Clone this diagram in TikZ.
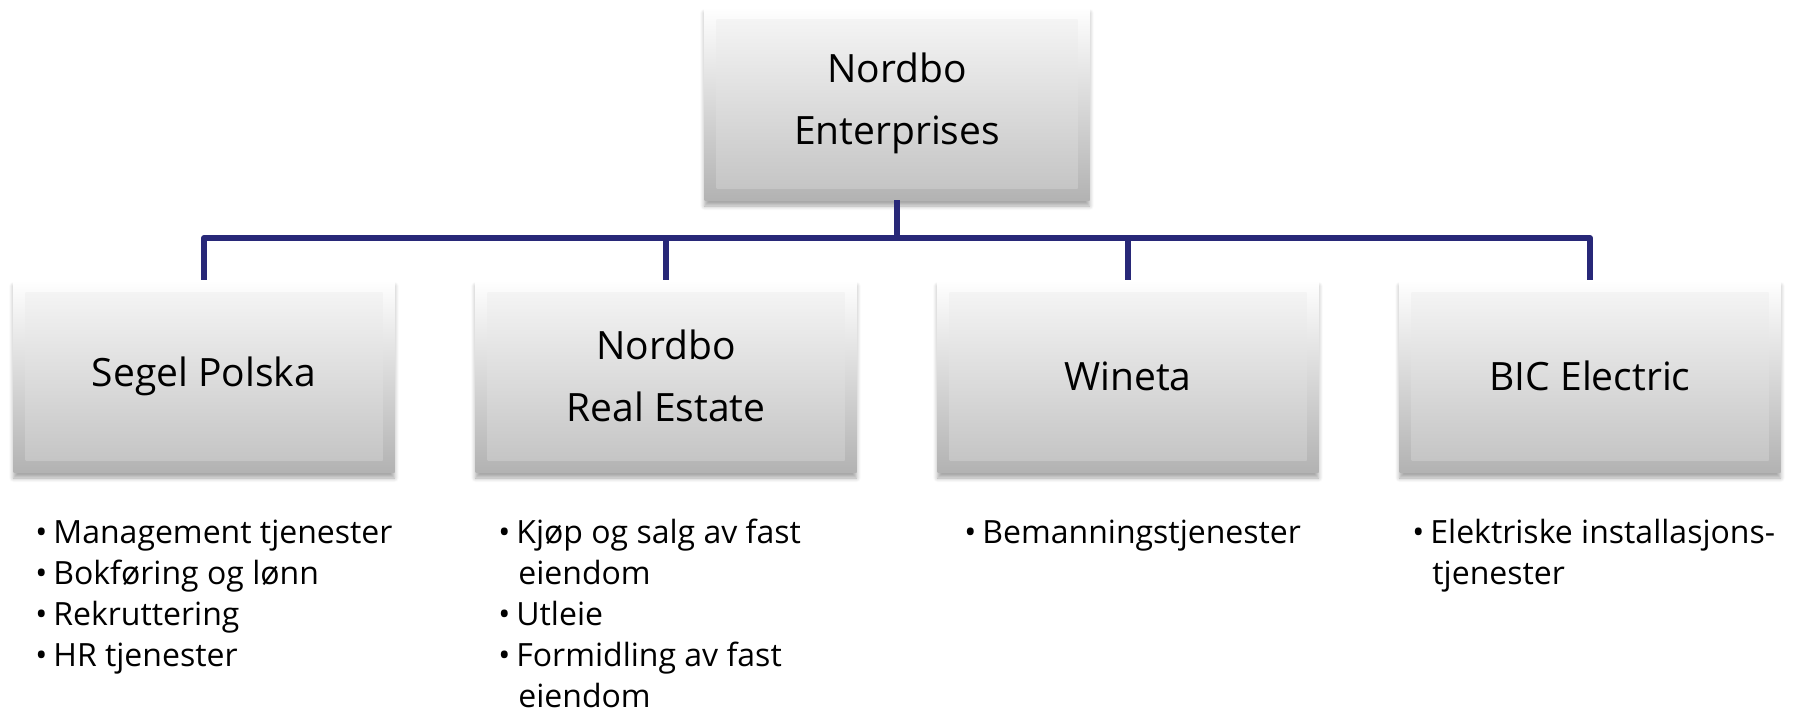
\documentclass[tikz,border=0pt]{standalone}
\usepackage{fontspec}
\setmainfont{Open Sans}
\usetikzlibrary{shadows.blur}
\definecolor{navy}{RGB}{40,40,120}
\newcommand{\bu}{\makebox[9pt][l]{•}}
\newcommand{\ind}{\hspace*{10pt}}
\begin{document}
\begin{tikzpicture}[x=0.5pt,y=-0.5pt,
  orgbox/.style={minimum width=190.5pt,minimum height=96pt,inner sep=0pt,
    align=center,font=\fontsize{19.5pt}{31pt}\selectfont,
    top color=white,bottom color=black!30,
    blur shadow={shadow xshift=0pt,shadow yshift=-3pt,shadow blur steps=6,shadow opacity=35},
    path picture={\shade[top color=black!3,bottom color=black!24]
      ([shift={(6pt,-6pt)}]path picture bounding box.north west) rectangle
      ([shift={(-6pt,6pt)}]path picture bounding box.south east);}},
  conn/.style={draw=navy,line width=3pt,line join=round},
  bul/.style={anchor=base west,inner sep=0pt,align=left,
    font=\fontsize{16pt}{20.5pt}\selectfont}]
\useasboundingbox (0,0) rectangle (1794,712);
\node[orgbox,minimum width=192.5pt,minimum height=96.5pt] (top) at (897,103.5) {Nordbo\\Enterprises};
\node[orgbox] (c1) at (204,376) {Segel Polska};
\node[orgbox] (c2) at (666,376) {Nordbo\\Real Estate};
\node[orgbox] (c3) at (1128,376) {Wineta};
\node[orgbox] (c4) at (1590,376) {BIC Electric};
\coordinate (bus) at (897,238);
\draw[conn] (top.south) -- (bus);
\draw[conn] (bus) -| (c1.north);
\draw[conn] (bus) -| (c2.north);
\draw[conn] (bus) -| (c3.north);
\draw[conn] (bus) -| (c4.north);
% base anchor = baseline of the last line
\node[bul] (l1) at (35,666) {\bu Management tjenester\\\bu Bokføring og lønn\\\bu Rekruttering\\\bu HR tjenester};
\node[bul] (l2) at (498,707) {\bu Kjøp og salg av fast\\\ind eiendom\\\bu Utleie\\\bu Formidling av fast\\\ind eiendom};
\node[bul] (l3) at (964,543) {\bu Bemanningstjenester};
\node[bul] (l4) at (1412,584) {\bu Elektriske installasjons-\\\ind tjenester};
\end{tikzpicture}
\end{document}
